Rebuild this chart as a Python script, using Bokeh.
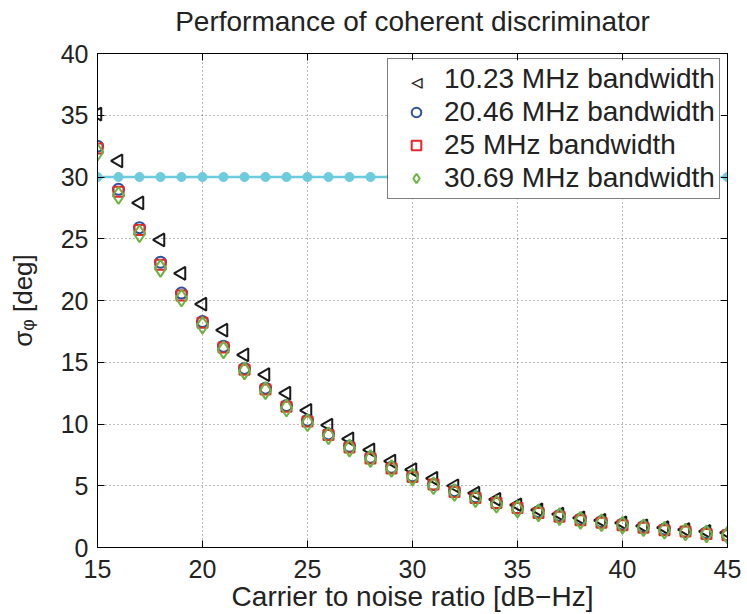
import math
from bokeh.plotting import figure
from bokeh.models import (Range1d, FixedTicker, LinearAxis, Label, Legend, LegendItem,
                          BoxAnnotation)
from bokeh.embed import file_html
from bokeh.resources import INLINE

# ---------------- data ----------------
cn0 = list(range(15, 46))  # carrier to noise ratio [dB-Hz]

sigma_10_23 = [35.1, 31.3, 27.9, 24.9, 22.2, 19.7, 17.6, 15.6, 14.0, 12.5, 11.1,
               9.9, 8.8, 7.9, 7.0, 6.3, 5.6, 5.0, 4.4, 3.9, 3.45, 3.05, 2.7, 2.4,
               2.2, 2.0, 1.75, 1.6, 1.45, 1.3, 1.2]
sigma_20_46 = [32.5, 29.0, 25.9, 23.1, 20.6, 18.3, 16.3, 14.5, 12.9, 11.5, 10.3,
               9.2, 8.2, 7.3, 6.5, 5.8, 5.1, 4.6, 4.1, 3.6, 3.2, 2.9, 2.6, 2.3,
               2.1, 1.9, 1.7, 1.5, 1.3, 1.2, 1.0]
sigma_25 = [32.3, 28.8, 25.7, 22.9, 20.4, 18.2, 16.2, 14.4, 12.8, 11.4, 10.2,
            9.1, 8.1, 7.2, 6.4, 5.7, 5.1, 4.5, 4.0, 3.6, 3.2, 2.8, 2.5, 2.2,
            2.0, 1.8, 1.6, 1.4, 1.3, 1.1, 1.0]
sigma_30_69 = [32.0, 28.5, 25.4, 22.6, 20.2, 18.0, 16.0, 14.3, 12.7, 11.3, 10.1,
               9.05, 8.05, 7.2, 6.4, 5.7, 5.0, 4.45, 3.95, 3.5, 3.1, 2.8, 2.5, 2.2,
               2.0, 1.8, 1.6, 1.4, 1.25, 1.1, 1.0]
threshold = [30] * len(cn0)

series_labels = ["10.23 MHz bandwidth", "20.46 MHz bandwidth",
                 "25 MHz bandwidth", "30.69 MHz bandwidth"]

x_ticks = [15, 20, 25, 30, 35, 40, 45]
y_ticks = [0, 5, 10, 15, 20, 25, 30, 35, 40]

title_text = "Performance of coherent discriminator"
x_label = "Carrier to noise ratio [dB\u2212Hz]"
y_label = "\u03c3\u1d69 [deg]"

# ---------------- figure ----------------
FONT = "Liberation Sans"
TXT = "#222222"

p = figure(width=747, height=614, x_range=Range1d(15, 45), y_range=Range1d(0, 40),
           output_backend="svg", toolbar_location=None,
           min_border_left=97, min_border_right=20, min_border_top=53,
           min_border_bottom=67)
p.background_fill_color = "white"
p.border_fill_color = "white"
p.outline_line_color = "black"
p.outline_line_width = 1

p.title.text = title_text
p.title.align = "center"
p.title.text_font = FONT
p.title.text_font_size = "28px"
p.title.text_font_style = "normal"
p.title.text_color = TXT
p.title.text_line_height = 1.0
p.title.standoff = 4

for ax in (p.xaxis[0], p.yaxis[0]):
    ax.major_tick_in = 7
    ax.major_tick_out = 0
    ax.minor_tick_in = 0
    ax.minor_tick_out = 0
    ax.axis_line_color = "black"
    ax.major_tick_line_color = "black"
    ax.major_label_text_font = FONT
    ax.major_label_text_font_size = "25px"
    ax.major_label_text_color = TXT
    ax.major_label_text_line_height = 1.0
    ax.axis_label_text_font = FONT
    ax.axis_label_text_font_style = "normal"
    ax.axis_label_text_color = TXT
    ax.axis_label_text_line_height = 1.0
p.xaxis[0].ticker = FixedTicker(ticks=x_ticks)
p.yaxis[0].ticker = FixedTicker(ticks=y_ticks)
p.xaxis[0].major_label_standoff = 12
p.yaxis[0].major_label_standoff = 9
p.xaxis[0].axis_label = x_label
p.xaxis[0].axis_label_text_font_size = "28px"
p.xaxis[0].axis_label_standoff = 0
p.yaxis[0].axis_label = y_label
p.yaxis[0].axis_label_text_font_size = "26px"
p.yaxis[0].axis_label_standoff = 20

top_axis = LinearAxis(ticker=FixedTicker(ticks=x_ticks), major_tick_in=7, major_tick_out=0,
                      minor_tick_in=0, minor_tick_out=0,
                      major_label_overrides={t: "" for t in x_ticks},
                      major_label_standoff=0, axis_line_color="black")
# invisible spacer axis: only lifts the title away from the frame
spacer_axis = LinearAxis(ticker=FixedTicker(ticks=x_ticks), major_tick_in=0, major_tick_out=15,
                         minor_tick_in=0, minor_tick_out=0,
                         major_label_overrides={t: "" for t in x_ticks},
                         major_label_standoff=0, axis_line_alpha=0, major_tick_line_alpha=0)
right_axis = LinearAxis(ticker=FixedTicker(ticks=y_ticks), major_tick_in=7, major_tick_out=0,
                        minor_tick_in=0, minor_tick_out=0,
                        major_label_overrides={t: "" for t in y_ticks},
                        major_label_standoff=0, axis_line_color="black")
p.add_layout(top_axis, "above")
p.add_layout(spacer_axis, "above")
p.add_layout(right_axis, "right")

p.xgrid.ticker = FixedTicker(ticks=x_ticks)
p.ygrid.ticker = FixedTicker(ticks=y_ticks)
for g in (p.xgrid[0], p.ygrid[0]):
    g.grid_line_color = "black"
    g.grid_line_alpha = 0.55
    g.grid_line_dash = "1 3"
    g.grid_line_width = 1

# ---------------- glyphs ----------------
CYAN = "#6ccbdd"
p.line(cn0, threshold, line_color=CYAN, line_width=2.5)
p.scatter(cn0, threshold, marker="circle", size=9, fill_color=CYAN, line_color=CYAN)

r1 = p.scatter(cn0, sigma_10_23, marker="triangle", angle=math.pi / 2, size=13,
               fill_color=None, line_color="#1a1a1a", line_width=2)
r2 = p.scatter(cn0, sigma_20_46, marker="circle", size=11,
               fill_color=None, line_color="#2f4f9f", line_width=2)
r3 = p.scatter(cn0, sigma_25, marker="square", size=10,
               fill_color=None, line_color="#e8242c", line_width=2)
r4 = p.scatter(cn0, sigma_30_69, marker="diamond", size=17,
               fill_color=None, line_color="#6bb33e", line_width=2)
# legends never draw markers rotated: key for the left-pointing triangle is drawn as text
r1_key = p.scatter([], [], marker="triangle", size=1, fill_alpha=0, line_alpha=0)

# legend layout (screen px, measured from the frame's bottom-left corner)
LEG_X, LEG_Y = 290, 348
LEG_W, LEG_H = 333, 139
LEG_PAD, LEG_GW, LEG_GH, LEG_SP = 4, 48, 24, 1

# opaque white backing of the legend (legend itself is transparent so the key shows)
p.add_layout(BoxAnnotation(left=LEG_X, right=LEG_X + LEG_W, bottom=LEG_Y, top=LEG_Y + LEG_H,
                           left_units="screen", right_units="screen",
                           bottom_units="screen", top_units="screen",
                           fill_color="white", fill_alpha=1, line_alpha=0))
# left-pointing triangle legend key (top row), stroked twice for weight
for dx in (0, 0.8):
    p.add_layout(Label(x=LEG_X + LEG_PAD + LEG_GW / 2 + 1 + dx, y=LEG_Y + LEG_H - LEG_PAD - 17,
                       x_units="screen", y_units="screen", text="\u25c1",
                       text_font="DejaVu Sans", text_font_size="14px",
                       text_color="#111111", text_align="center", text_baseline="middle"))

legend = Legend(items=[LegendItem(label=series_labels[0], renderers=[r1_key]),
                       LegendItem(label=series_labels[1], renderers=[r2]),
                       LegendItem(label=series_labels[2], renderers=[r3]),
                       LegendItem(label=series_labels[3], renderers=[r4])],
                location=(LEG_X, LEG_Y), orientation="vertical")
legend.label_text_font = FONT
legend.label_text_font_size = "28px"
legend.label_text_color = TXT
legend.label_text_line_height = 1.05
legend.border_line_color = "black"
legend.border_line_width = 1
legend.background_fill_alpha = 0
legend.padding = LEG_PAD
legend.spacing = LEG_SP
legend.margin = 0
legend.glyph_width = LEG_GW
legend.glyph_height = LEG_GH
legend.label_height = LEG_GH
legend.label_standoff = 4
p.add_layout(legend, "center")

open("out.html", "w").write(file_html(p, INLINE))
